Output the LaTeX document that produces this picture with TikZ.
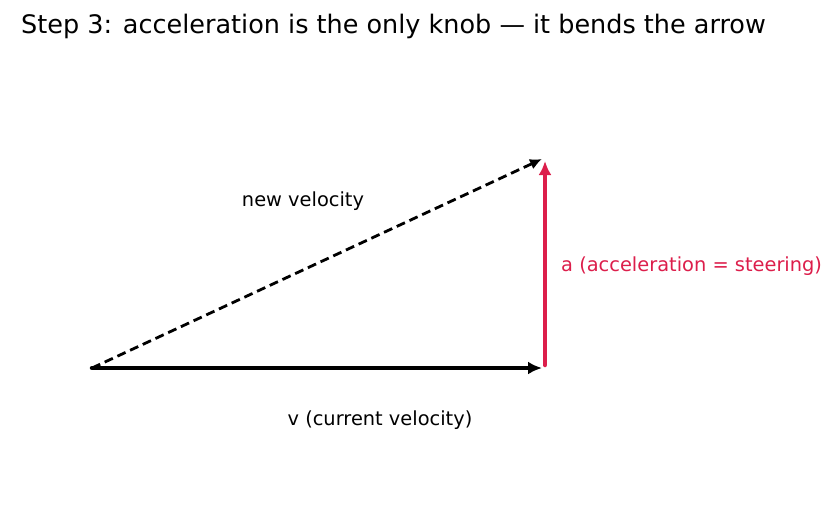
\documentclass[tikz,border=0pt]{standalone}
\usepackage{fontspec}
\setmainfont{DejaVu Sans}
\usetikzlibrary{arrows.meta}
\definecolor{steer}{RGB}{220,30,75}
\tikzset{lbl/.style={font=\fontsize{19.4}{22}\selectfont},
    vec/.style={line width=4.5pt, -{Latex[length=14pt,width=13pt]}}}
\begin{document}
\begin{tikzpicture}[x=1pt, y=-1pt, every node/.style={inner sep=0pt}]
    \useasboundingbox (0,0) rectangle (837,512);
    \node[anchor=west, font=\fontsize{25.5}{30}\selectfont] (title) at (21,26) {Step 3: acceleration is the only knob — it bends the arrow};
    \coordinate (o) at (92,368); \coordinate (vtip) at (542,368);
    \coordinate (afoot) at (545,365); \coordinate (atip) at (545,161);
    \coordinate (ntip) at (542,159);
    \draw[vec, line cap=round] (o) -- (vtip);
    \draw[line width=2.8pt, dash pattern=on 9pt off 5pt, -{Latex[length=12pt,width=11pt]}] (o) -- (ntip);
    \draw[vec, steer, line cap=round] (afoot) -- (atip);
    \node[lbl] (newlbl) at (303,201) {new velocity};
    \node[lbl] (vlbl) at (380,420) {v (current velocity)};
    \node[lbl, steer, anchor=west] (albl) at (561,266) {a (acceleration = steering)};
\end{tikzpicture}
\end{document}
